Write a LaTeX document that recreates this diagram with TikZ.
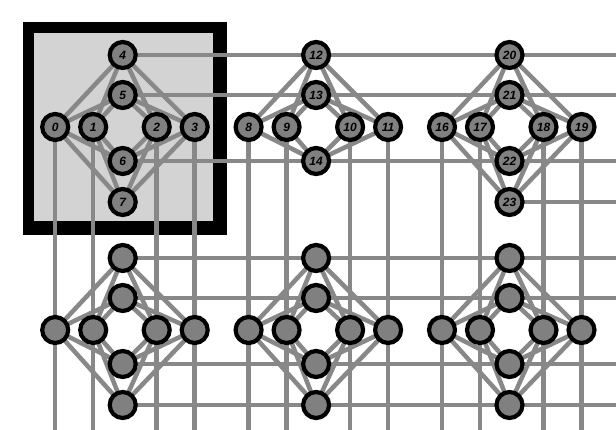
\documentclass[tikz,border=0pt]{standalone}
\usepackage{fontspec}
\setmainfont{Liberation Sans}
\definecolor{edgegray}{RGB}{136,136,136}
\definecolor{nodegray}{RGB}{128,128,128}
\definecolor{boxgray}{RGB}{211,211,211}
\pgfdeclarelayer{boxlayer}
\pgfdeclarelayer{edgelayer}
\pgfsetlayers{boxlayer,edgelayer,main}
\tikzset{
  qubit/.style={circle, draw=black, line width=4.2pt, fill=nodegray, minimum size=26pt,
    inner sep=0pt, text=black, font=\bfseries\itshape\fontsize{12}{12}\selectfont},
  coupler/.style={draw=edgegray, line width=4.5pt}
}
\begin{document}
\begin{tikzpicture}[x=1pt,y=-1pt]
\useasboundingbox (0,0) rectangle (616,430);
% nodes
\foreach \c in {0,1,2} {
  \pgfmathsetmacro{\cx}{122.7+193.4*\c}
  \foreach \r/\yo in {0/0,1/203} {
    \pgfmathtruncatemacro{\base}{8*\c+24*\r}
    \foreach \i/\xo in {0/-67.5,1/-29.5,2/34,3/72} {
      \pgfmathtruncatemacro{\k}{\base+\i}
      \node[qubit] (n\k) at (\cx+\xo,127+\yo) {\ifnum\r=0 \k\fi};
      \coordinate (b\k) at (\cx+\xo,430);
    }
    \foreach \j/\yy in {4/55,5/95,6/161,7/202} {
      \pgfmathtruncatemacro{\k}{\base+\j}
      \ifnum\k=15 \else
        \node[qubit] (n\k) at (\cx,\yy+\yo) {\ifnum\r=0 \k\fi};
      \fi
      \coordinate (e\k) at (616,\yy+\yo);
    }
  }
}
% box
\begin{pgfonlayer}{boxlayer}
  \fill[black] (22.7,21.7) rectangle (227.3,235);
  \fill[boxgray] (34,33) rectangle (212.7,220.7);
\end{pgfonlayer}
% edges
\begin{pgfonlayer}{edgelayer}
  % intra-cell K4,4
  \foreach \c in {0,1,2} {
    \foreach \r in {0,1} {
      \pgfmathtruncatemacro{\base}{8*\c+24*\r}
      \foreach \i in {0,1,2,3} {
        \foreach \j in {4,5,6,7} {
          \pgfmathtruncatemacro{\a}{\base+\i}
          \pgfmathtruncatemacro{\b}{\base+\j}
          \ifnum\b=15 \else
            \draw[coupler] (n\a.center) -- (n\b.center);
          \fi
        }
      }
    }
  }
  % horizontal couplers
  \foreach \j in {4,5,6,28,29,30,31} {
    \pgfmathtruncatemacro{\a}{\j+8}
    \pgfmathtruncatemacro{\b}{\j+16}
    \draw[coupler] (n\j.center) -- (n\a.center) -- (n\b.center) -- (e\b);
  }
  \draw[coupler] (n23.center) -- (e23);
  % vertical couplers
  \foreach \k in {0,1,2,3,8,9,10,11,16,17,18,19} {
    \pgfmathtruncatemacro{\a}{\k+24}
    \draw[coupler] (n\k.center) -- (n\a.center) -- (b\a);
  }
\end{pgfonlayer}
\end{tikzpicture}
\end{document}
